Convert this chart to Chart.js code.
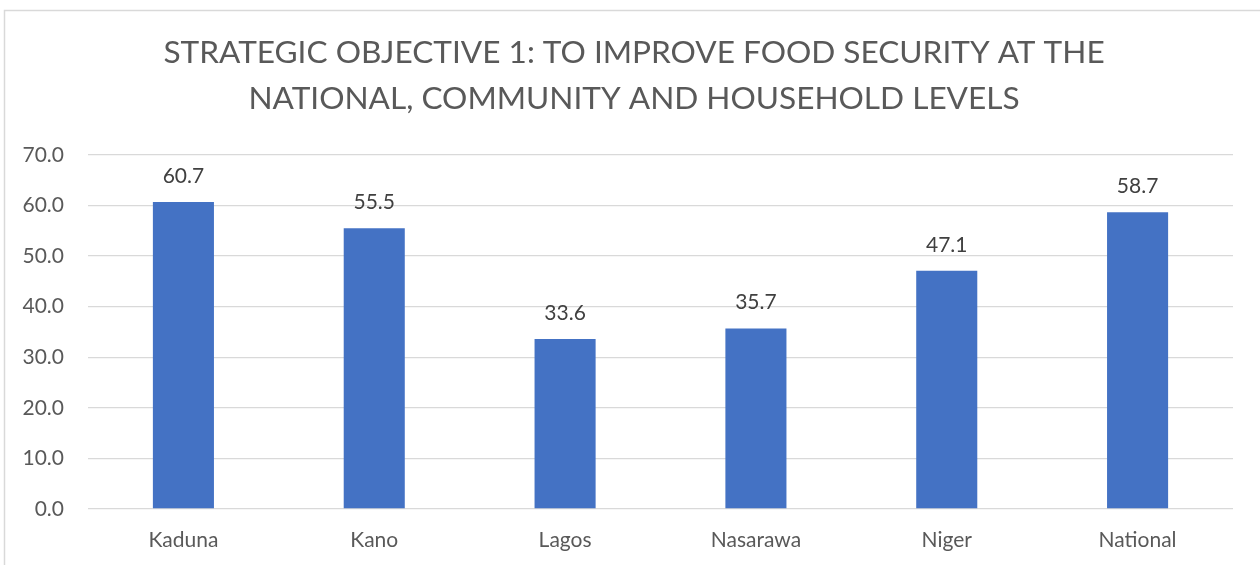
<!DOCTYPE html>
<html>
<head>
<meta charset="utf-8">
<script src="https://cdn.jsdelivr.net/npm/chart.js@4.4.1/dist/chart.umd.min.js"></script>
<style>
  html, body { margin: 0; padding: 0; background: #ffffff; }
  #wrap { width: 1260px; height: 565px; position: relative; }
</style>
</head>
<body>
<div id="wrap"><canvas id="chart" width="1260" height="565"></canvas></div>
<script>
// Food security indicator by state
const categories = ['Kaduna', 'Kano', 'Lagos', 'Nasarawa', 'Niger', 'National'];
const values = [60.7, 55.5, 33.6, 35.7, 47.1, 58.7];
const yTicks = [0, 10, 20, 30, 40, 50, 60, 70];
const titleLines = ['STRATEGIC OBJECTIVE 1: TO IMPROVE FOOD SECURITY AT THE',
                    'NATIONAL, COMMUNITY AND HOUSEHOLD LEVELS'];

const FONT = 'Lato, "Open Sans", sans-serif';
const GRAY = '#595959';

// White background and light frame around the chart
const framePlugin = {
  id: 'frame',
  beforeDraw(chart) {
    const ctx = chart.ctx;
    ctx.save();
    ctx.fillStyle = '#ffffff';
    ctx.fillRect(0, 0, chart.width, chart.height);
    ctx.strokeStyle = '#d9d9d9';
    ctx.lineWidth = 1.5;
    ctx.strokeRect(4.5, 10.5, chart.width + 20, chart.height + 20);
    ctx.restore();
  }
};

// Two-line heading, centred over the frame
const headingPlugin = {
  id: 'heading',
  afterDraw(chart) {
    const ctx = chart.ctx;
    ctx.save();
    ctx.font = '31.6px ' + FONT;
    ctx.fillStyle = GRAY;
    ctx.textAlign = 'center';
    ctx.textBaseline = 'middle';
    titleLines.forEach((line, i) => ctx.fillText(line, 634, 53 + i * 46));
    ctx.restore();
  }
};

// Value labels above each bar
const valueLabels = {
  id: 'valueLabels',
  afterDatasetsDraw(chart) {
    const ctx = chart.ctx;
    const meta = chart.getDatasetMeta(0);
    ctx.save();
    ctx.font = '21px ' + FONT;
    ctx.fillStyle = '#404040';
    ctx.textAlign = 'center';
    ctx.textBaseline = 'middle';
    meta.data.forEach((bar, i) => {
      ctx.fillText(values[i].toFixed(1), bar.x, bar.y - 26);
    });
    ctx.restore();
  }
};

new Chart(document.getElementById('chart'), {
  type: 'bar',
  data: {
    labels: categories,
    datasets: [{
      data: values,
      backgroundColor: '#4472C4',
      borderWidth: 0,
      categoryPercentage: 1.0,
      barPercentage: 0.32
    }]
  },
  options: {
    responsive: false,
    animation: false,
    layout: { padding: { left: 5, right: 27, top: 155, bottom: 0 } },
    plugins: {
      legend: { display: false },
      tooltip: { enabled: false },
      title: { display: false }
    },
    scales: {
      x: {
        grid: { display: false },
        border: { display: false },
        ticks: {
          color: GRAY,
          font: { family: FONT, size: 21 },
          padding: 11,
          maxRotation: 0
        },
        afterFit(axis) { axis.height = 56; }
      },
      y: {
        min: 0,
        max: 70,
        afterBuildTicks(axis) { axis.ticks = yTicks.map(v => ({ value: v })); },
        grid: { color: '#d9d9d9', lineWidth: 1.3, drawTicks: false },
        border: { display: false },
        ticks: {
          color: GRAY,
          font: { family: FONT, size: 21 },
          padding: 24,
          callback: v => Number(v).toFixed(1)
        },
        afterFit(axis) { axis.width = 83; }
      }
    }
  },
  plugins: [framePlugin, valueLabels, headingPlugin]
});
</script>
</body>
</html>
